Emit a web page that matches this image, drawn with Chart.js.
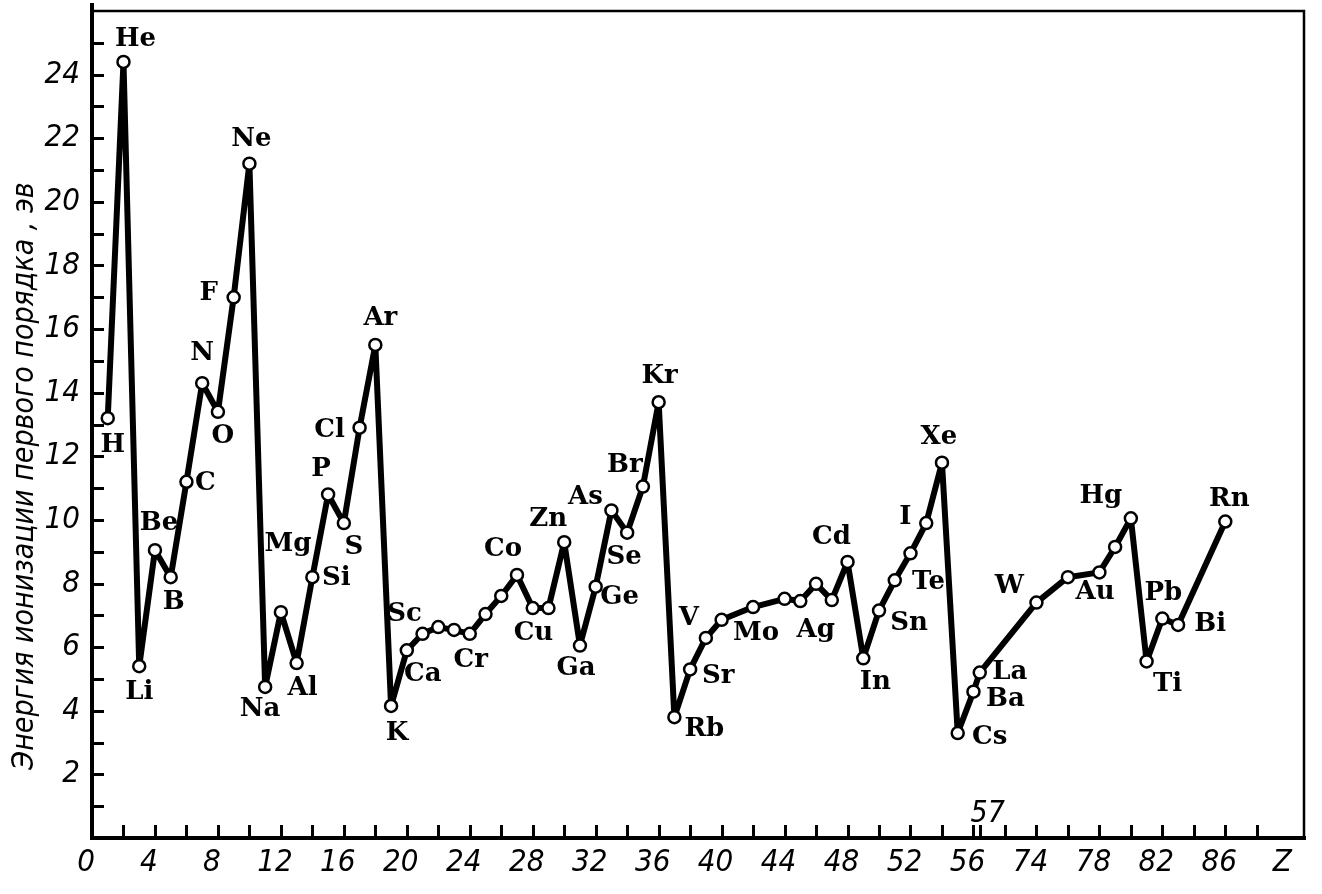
<!DOCTYPE html>
<html lang="ru">
<head>
<meta charset="utf-8">
<title>Энергия ионизации первого порядка</title>
<script src="https://cdn.jsdelivr.net/npm/chart.js@4"></script>
<style>
  html, body { margin: 0; padding: 0; background: #fff; }
  #wrap { width: 1322px; height: 894px; }
</style>
</head>
<body>
<div id="wrap"><canvas id="chart" width="1322" height="894"></canvas></div>
<script>
// Atomic number of each plotted element
const atomicNumbers = [
  1, 2, 3, 4, 5, 6, 7, 8, 9, 10,
  11, 12, 13, 14, 15, 16, 17, 18,
  19, 20, 21, 22, 23, 24, 25, 26, 27, 28, 29, 30, 31, 32, 33, 34, 35, 36,
  37, 38, 39, 40, 42, 44, 45, 46, 47, 48, 49, 50, 51, 52, 53, 54,
  55, 56, 57, 74, 76, 78, 79, 80, 81, 82, 83, 86
];

// First ionization energy, eV
const energies = [
  13.2, 24.4, 5.4, 9.05, 8.2, 11.2, 14.3, 13.4, 17.0, 21.2,
  4.75, 7.1, 5.5, 8.2, 10.8, 9.9, 12.9, 15.5,
  4.15, 5.9, 6.42, 6.63, 6.54, 6.42, 7.04, 7.61, 8.27, 7.23, 7.23, 9.3, 6.05, 7.9, 10.3, 9.6, 11.05, 13.7,
  3.8, 5.3, 6.29, 6.86, 7.26, 7.52, 7.45, 7.99, 7.48, 8.68, 5.65, 7.15, 8.1, 8.95, 9.9, 11.8,
  3.3, 4.6, 5.2, 7.4, 8.2, 8.35, 9.15, 10.05, 5.55, 6.9, 6.7, 9.95
];

// Label printed next to each point ('' = no label), spelled as in the original
const pointLabels = [
  'H', 'He', 'Li', 'Be', 'B', 'C', 'N', 'O', 'F', 'Ne',
  'Na', 'Mg', 'Al', 'Si', 'P', 'S', 'Cl', 'Ar',
  'K', 'Ca', 'Sc', '', '', 'Cr', '', '', 'Co', '', 'Cu', 'Zn', 'Ga', 'Ge', 'As', 'Se', 'Br', 'Kr',
  'Rb', 'Sr', 'V', '', 'Mo', '', '', '', 'Ag', 'Cd', 'In', 'Sn', '', 'Te', 'I', 'Xe',
  'Cs', 'Ba', 'La', 'W', '', '', 'Au', 'Hg', 'Ti', 'Pb', 'Bi', 'Rn'
];

// Axis tick labels
const yTickLabels = [2, 4, 6, 8, 10, 12, 14, 16, 18, 20, 22, 24];
const xTickLabels = ['0', '4', '8', '12', '16', '20', '24', '28', '32', '36', '40', '44', '48', '52', '56', '74', '78', '82', '86', 'Z'];

const yTitle = 'Энергия ионизации первого порядка , эв';
const breakLabel = '57';

// The Z axis is broken after 56: La sits just past Ba, then 74 continues
function axisPos(z) {
  if (z <= 56) return z;
  if (z === 57) return 56.4;
  return z - 14;
}

const points = atomicNumbers.map((z, i) => ({ x: axisPos(z), y: energies[i] }));

// Where each element label sits relative to its point (px)
const labelOffset = {
  H: [5, 27], He: [12, -23], Li: [0, 26], Be: [4, -27], B: [3, 25], C: [19, 1],
  N: [0, -30], O: [5, 24], F: [-25, -4], Ne: [2, -24],
  Na: [-5, 22], Mg: [7, -68], Al: [6, 25], Si: [24, 1], P: [-7, -25], S: [10, 24],
  Cl: [-30, 3], Ar: [5, -27],
  K: [6, 27], Ca: [16, 24], Sc: [-18, -20], Cr: [1, 26], Co: [-14, -26], Cu: [-15, 25],
  Zn: [-16, -23], Ga: [-4, 23], Ge: [24, 11], As: [-26, -13], Se: [-3, 25], Br: [-18, -21], Kr: [1, -26],
  Rb: [30, 12], Sr: [28, 7], V: [-17, -20], Mo: [3, 26], Ag: [-16, 30], Cd: [-16, -25],
  In: [12, 24], Sn: [30, 13], Te: [18, 29], I: [-21, -6], Xe: [-3, -25],
  Cs: [32, 4], Ba: [32, 8], La: [30, 0], W: [-27, -16], Au: [-20, 45], Hg: [-30, -22],
  Ti: [21, 23], Pb: [1, -25], Bi: [32, -1], Rn: [4, -22]
};

const NUM_FONT = '"Liberation Sans Narrow", "DejaVu Sans Condensed", sans-serif';
const LABEL_FONT = '"DejaVu Serif", "Liberation Serif", serif';

const frameAndLabels = {
  id: 'frameAndLabels',
  beforeDatasetsDraw(chart) {
    const { ctx, chartArea: a, scales: { x, y } } = chart;
    ctx.save();
    ctx.strokeStyle = '#000';
    ctx.lineCap = 'square';

    // top and right frame
    ctx.lineWidth = 2.5;
    ctx.beginPath();
    ctx.moveTo(a.left, a.top);
    ctx.lineTo(a.right, a.top);
    ctx.lineTo(a.right, a.bottom);
    ctx.stroke();

    // axes
    ctx.lineWidth = 4;
    ctx.beginPath();
    ctx.moveTo(a.left, a.top - 6);
    ctx.lineTo(a.left, a.bottom);
    ctx.lineTo(a.right, a.bottom);
    ctx.stroke();

    // inward tick marks
    ctx.lineWidth = 3;
    ctx.lineCap = 'butt';
    ctx.beginPath();
    for (let v = 1; v <= 25; v++) {
      const py = Math.round(y.getPixelForValue(v)) + 0.5;
      ctx.moveTo(a.left, py);
      ctx.lineTo(a.left + 12, py);
    }
    const xt = [];
    for (let v = 2; v <= 74; v += 2) xt.push(v);
    xt.push(axisPos(57));
    xt.forEach(v => {
      const px = Math.round(x.getPixelForValue(v)) + 0.5;
      ctx.moveTo(px, a.bottom);
      ctx.lineTo(px, a.bottom - 13);
    });
    ctx.stroke();

    // "57" above the break
    ctx.fillStyle = '#000';
    ctx.font = 'italic 30px ' + NUM_FONT;
    ctx.textAlign = 'center';
    ctx.textBaseline = 'middle';
    ctx.fillText(breakLabel, x.getPixelForValue(axisPos(57)) + 8, a.bottom - 24);

    // y axis title
    ctx.translate(25, 476);
    ctx.rotate(-Math.PI / 2);
    ctx.font = 'italic 30px ' + NUM_FONT;
    ctx.fillText(yTitle, 0, 0);
    ctx.restore();
  },
  afterDatasetsDraw(chart) {
    const { ctx } = chart;
    const meta = chart.getDatasetMeta(0);
    ctx.save();
    ctx.fillStyle = '#000';
    ctx.font = 'bold 26px ' + LABEL_FONT;
    ctx.textAlign = 'center';
    ctx.textBaseline = 'middle';
    pointLabels.forEach((text, i) => {
      if (!text) return;
      const el = meta.data[i];
      const off = labelOffset[text] || [0, -25];
      ctx.fillText(text, el.x + off[0], el.y + off[1]);
    });
    ctx.restore();
  }
};

const ctx = document.getElementById('chart').getContext('2d');
const chart = new Chart(ctx, {
  type: 'line',
  data: {
    datasets: [{
      data: points,
      borderColor: '#000',
      borderWidth: 6,
      borderJoinStyle: 'round',
      tension: 0,
      pointRadius: 6,
      pointBorderWidth: 2.5,
      pointBackgroundColor: '#fff',
      pointBorderColor: '#000'
    }]
  },
  options: {
    responsive: false,
    animation: false,
    devicePixelRatio: 1,
    layout: { padding: { top: 11, right: 18, left: 0, bottom: 0 } },
    plugins: {
      legend: { display: false },
      tooltip: { enabled: false }
    },
    scales: {
      x: {
        type: 'linear',
        min: 0,
        max: 77,
        afterFit(scale) {
          scale.height = 56;
          scale.paddingLeft = 0;
          scale.paddingRight = 0;
        },
        afterBuildTicks(scale) {
          const t = [];
          for (let v = 0; v <= 76; v += 4) t.push({ value: v });
          scale.ticks = t;
        },
        grid: { display: false, drawTicks: false },
        border: { display: false },
        ticks: {
          autoSkip: false,
          maxRotation: 0,
          padding: 6,
          labelOffset: -6,
          color: '#000',
          font: { family: NUM_FONT, size: 31, style: 'italic' },
          callback(v) {
            return xTickLabels[v / 4] || '';
          }
        }
      },
      y: {
        min: 0,
        max: 26,
        afterFit(scale) {
          scale.width = 92;
          scale.paddingTop = 0;
          scale.paddingBottom = 0;
        },
        grid: { display: false, drawTicks: false },
        border: { display: false },
        ticks: {
          stepSize: 1,
          autoSkip: false,
          padding: 12,
          color: '#000',
          font: { family: NUM_FONT, size: 31, style: 'italic' },
          callback(v) {
            return yTickLabels.includes(v) ? String(v) : '';
          }
        }
      }
    }
  },
  plugins: [frameAndLabels]
});
</script>
</body>
</html>
